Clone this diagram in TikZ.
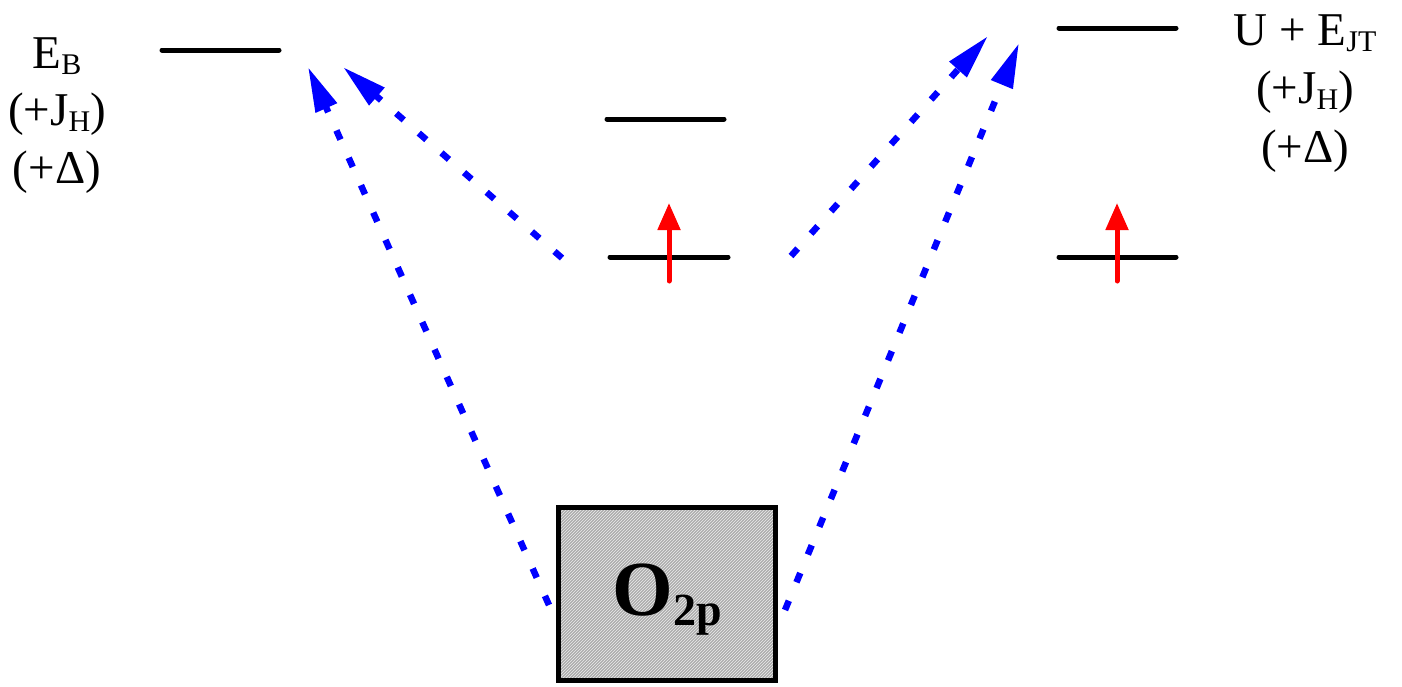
\documentclass[tikz,border=0pt]{standalone}
\usepackage{fontspec}
\setmainfont{Liberation Serif}
\usetikzlibrary{arrows.meta,patterns}
\newcommand\lowsub[1]{\raisebox{-6pt}{\fontsize{30}{30}\selectfont #1}}
\tikzset{
  level/.style={line width=5pt, line cap=round},
  spin/.style={red, line width=5pt, line cap=round, -{Triangle[length=27pt,width=22pt]}},
  hop/.style={blue, line width=6.5pt, dash pattern=on 10pt off 20pt, -{Triangle[length=45pt,width=22pt]}},
  lbl/.style={anchor=base, inner sep=0pt, font=\fontsize{47}{50}\selectfont},
}
\begin{document}
\begin{tikzpicture}[x=1pt,y=-1pt]
\useasboundingbox (0,0) rectangle (1402,686);
% levels
\coordinate (l1a) at (162,50);  \coordinate (l1b) at (279,50);
\coordinate (l2a) at (607,119); \coordinate (l2b) at (724,119);
\coordinate (l3a) at (610,257); \coordinate (l3b) at (728,257);
\coordinate (l4a) at (1059,28); \coordinate (l4b) at (1176,28);
\coordinate (l5a) at (1059,257); \coordinate (l5b) at (1176,257);
\draw[level] (l1a) -- (l1b);
\draw[level] (l2a) -- (l2b);
\draw[level] (l3a) -- (l3b);
\draw[level] (l4a) -- (l4b);
\draw[level] (l5a) -- (l5b);
% spins
\coordinate (s1a) at (669,281); \coordinate (s1b) at (669,203);
\coordinate (s2a) at (1117,281); \coordinate (s2b) at (1117,203);
\draw[spin] (s1a) -- (s1b);
\draw[spin] (s2a) -- (s2b);
% box
\node[draw, line width=5pt, minimum width=217pt, minimum height=173pt,
      preaction={fill=gray!65}, pattern=north east lines, pattern color=white!85!gray]
  (box) at (667,594) {};
\node[inner sep=0pt] (o2p) at (667,600)
  {\fontsize{78}{78}\selectfont\bfseries O\raisebox{-10pt}{\fontsize{46}{46}\selectfont 2p}};
% labels
\node[lbl] (eb) at (57,68) {E\lowsub{B}};
\node[lbl] (jh1) at (57,125) {(+J\lowsub{H})};
\node[lbl] (d1) at (57,183) {(+Δ)};
\node[lbl] (uejt) at (1305,45) {U + E\lowsub{JT}};
\node[lbl] (jh2) at (1305,103) {(+J\lowsub{H})};
\node[lbl] (d2) at (1305,162) {(+Δ)};
% hops
\coordinate (h1a) at (549,605); \coordinate (h1b) at (308,67);
\coordinate (h2a) at (562,258); \coordinate (h2b) at (343,67);
\coordinate (h3a) at (791,256); \coordinate (h3b) at (988,36);
\coordinate (h4a) at (785,610); \coordinate (h4b) at (1019,43);
\draw[hop] (h1a) -- (h1b);
\draw[hop] (h2a) -- (h2b);
\draw[hop] (h3a) -- (h3b);
\draw[hop] (h4a) -- (h4b);
\end{tikzpicture}
\end{document}
